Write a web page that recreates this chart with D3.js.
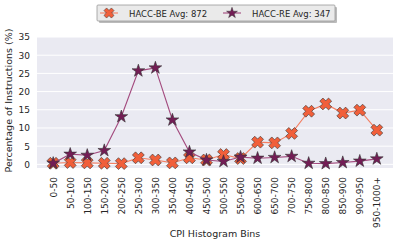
<!DOCTYPE html>
<html>
<head>
<meta charset="utf-8">
<script src="https://cdn.jsdelivr.net/npm/d3@7"></script>
<style>
  body { margin: 0; background: #fff; }
  text { font-family: "DejaVu Sans", sans-serif; fill: #262626; }
</style>
</head>
<body>
<div id="vis"></div>
<script>
const WIDTH = 399;
const HEIGHT = 245;

const bins = ["0-50", "50-100", "100-150", "150-200", "200-250", "250-300", "300-350",
  "350-400", "400-450", "450-500", "500-550", "550-600", "600-650", "650-700",
  "700-750", "750-800", "800-850", "850-900", "900-950", "950-1000+"];
const beValues = [0.3, 0.5, 0.4, 0.3, 0.2, 1.8, 1.2, 0.4, 1.8, 1.2, 2.7, 1.6, 6.1,
  5.9, 8.5, 14.6, 16.6, 14.1, 14.9, 9.4];
const reValues = [0.3, 2.8, 2.5, 3.8, 13.1, 25.7, 26.5, 12.2, 3.4, 1.2, 0.8, 2.0, 1.7,
  1.9, 2.2, 0.3, 0.2, 0.5, 0.9, 1.5];
const yTicks = [0, 5, 10, 15, 20, 25, 30, 35];
const seriesNames = ["HACC-BE Avg: 872", "HACC-RE Avg: 347"];

const MARGINS = {left: 37, right: 6, top: 37, bottom: 77};

const svg = d3.select("#vis")
  .append("svg")
  .attr("width", WIDTH)
  .attr("height", HEIGHT);

const plotW = WIDTH - MARGINS.left - MARGINS.right;
const plotH = HEIGHT - MARGINS.top - MARGINS.bottom;

const X_SCALE = d3.scaleLinear()
  .domain([-0.95, bins.length - 1 + 0.95])
  .range([MARGINS.left, MARGINS.left + plotW]);

const Y_SCALE = d3.scaleLinear()
  .domain([-1, 35])
  .range([MARGINS.top + plotH, MARGINS.top]);

// background
svg.append("rect")
  .attr("x", MARGINS.left)
  .attr("y", MARGINS.top)
  .attr("width", plotW)
  .attr("height", plotH)
  .attr("fill", "#eaeaf2");

// grid
svg.selectAll(".grid")
  .data(yTicks)
  .enter()
  .append("line")
    .attr("x1", MARGINS.left)
    .attr("x2", MARGINS.left + plotW)
    .attr("y1", d => Y_SCALE(d))
    .attr("y2", d => Y_SCALE(d))
    .attr("stroke", "#fff")
    .attr("stroke-width", 1);

// y axis
const yAxis = svg.append("g")
  .attr("transform", `translate(${MARGINS.left},0)`)
  .call(d3.axisLeft(Y_SCALE).tickValues(yTicks).tickSize(0).tickPadding(7));
yAxis.select(".domain").remove();
yAxis.selectAll("text")
  .style("font-size", "9px")
  .style("font-family", "DejaVu Sans")
  .attr("fill", "#262626");

// x axis
const xAxis = svg.append("g")
  .attr("transform", `translate(0,${MARGINS.top + plotH})`)
  .call(d3.axisBottom(X_SCALE).tickValues(d3.range(bins.length))
    .tickFormat(i => bins[i]).tickSize(0).tickPadding(0));
xAxis.select(".domain").remove();
xAxis.selectAll("text")
  .style("font-size", "9px")
  .style("font-family", "DejaVu Sans")
  .attr("fill", "#262626")
  .attr("text-anchor", "end")
  .attr("dy", "0.35em")
  .attr("transform", "translate(0,9) rotate(-90)")
  .attr("x", 0)
  .attr("y", 0);

// axis labels
svg.append("text")
  .attr("x", MARGINS.left + plotW / 2)
  .attr("y", 237)
  .attr("text-anchor", "middle")
  .style("font-size", "9.5px")
  .text("CPI Histogram Bins");

svg.append("text")
  .attr("transform", `translate(12,${MARGINS.top + plotH / 2 - 2}) rotate(-90)`)
  .attr("text-anchor", "middle")
  .style("font-size", "9.5px")
  .text("Percentage of Instructions (%)");

const line = d3.line()
  .x((d, i) => X_SCALE(i))
  .y(d => Y_SCALE(d));

// filled "X" marker: a plus rotated by 45 degrees
const crossPath = (() => {
  const L = 6.2, w = 2.2;
  const plus = [[-w, -L], [w, -L], [w, -w], [L, -w], [L, w], [w, w],
    [w, L], [-w, L], [-w, w], [-L, w], [-L, -w], [-w, -w]];
  const c = Math.SQRT1_2;
  const pts = plus.map(([x, y]) => [c * (x - y), c * (x + y)]);
  const p = d3.path();
  p.moveTo(pts[0][0], pts[0][1]);
  pts.slice(1).forEach(q => p.lineTo(q[0], q[1]));
  p.closePath();
  return p.toString();
})();
const starPath = d3.symbol().type(d3.symbolStar).size(50)();

const series = [
  {values: beValues, fill: "#f15f3a", stroke: "#f47f62", shape: crossPath},
  {values: reValues, fill: "#731d55", stroke: "#a34a7e", shape: starPath}
];

// each series: line then its markers, so later series sit on top
series.forEach(s => {
  const g = svg.append("g");
  g.append("path")
    .datum(s.values)
    .attr("fill", "none")
    .attr("stroke", s.stroke)
    .attr("stroke-width", 1.1)
    .attr("d", line);
  g.selectAll(null)
    .data(s.values)
    .enter()
    .append("path")
      .attr("d", s.shape)
      .attr("transform", (d, i) => `translate(${X_SCALE(i)},${Y_SCALE(d)})`)
      .attr("fill", s.fill)
      .attr("stroke", "#333")
      .attr("stroke-width", 0.6);
});

// legend
const legend = svg.append("g");
legend.append("rect")
  .attr("x", 99).attr("y", 7).attr("width", 238).attr("height", 16)
  .attr("fill", "#bbb").attr("rx", 1);
legend.append("rect")
  .attr("x", 97).attr("y", 5).attr("width", 238).attr("height", 16)
  .attr("fill", "#eaeaea").attr("stroke", "#999").attr("stroke-width", 0.8).attr("rx", 1);

const legX = [100, 223];
series.forEach((s, k) => {
  legend.append("line")
    .attr("x1", legX[k]).attr("x2", legX[k] + 18)
    .attr("y1", 13).attr("y2", 13)
    .attr("stroke", s.stroke).attr("stroke-width", 1.1);
  legend.append("path")
    .attr("d", s.shape)
    .attr("transform", `translate(${legX[k] + 9},13) scale(0.85)`)
    .attr("fill", s.fill).attr("stroke", "#333").attr("stroke-width", 0.6);
  legend.append("text")
    .attr("x", legX[k] + 29)
    .attr("y", 16.5)
    .style("font-size", "8.5px")
    .text(seriesNames[k]);
});
</script>
</body>
</html>
